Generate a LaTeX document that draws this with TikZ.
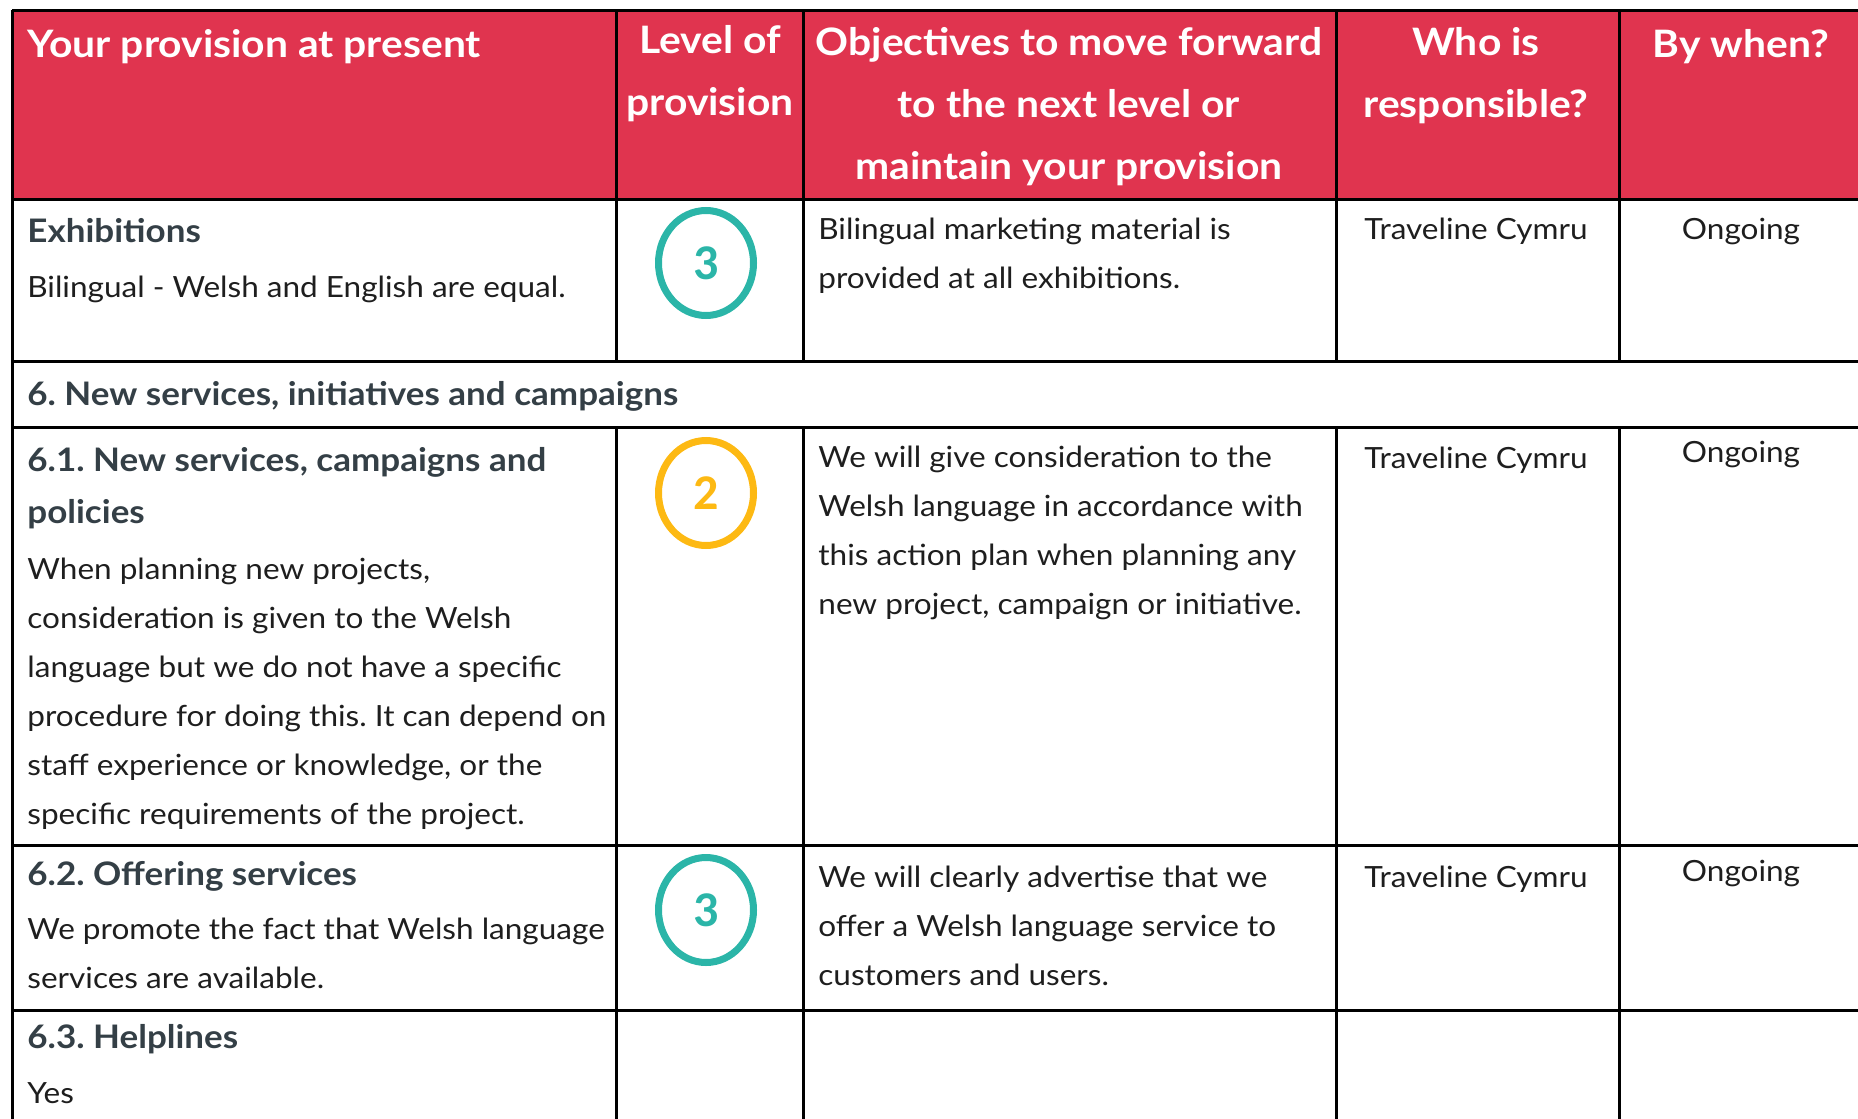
\documentclass[tikz,border=0pt]{standalone}
\usepackage{fontspec}
\setmainfont{Lato}[FakeStretch=1.08]
\newfontfamily\digitfont{Carlito}
\usepackage{tikz}
\frenchspacing
\definecolor{headred}{HTML}{E0344F}
\definecolor{levelteal}{HTML}{2BB5A8}
\definecolor{levelamber}{HTML}{FDB913}
\definecolor{titlegrey}{HTML}{343F46}
\definecolor{bodyblack}{HTML}{1E1E1E}
\tikzset{
	cell/.style={inner sep=0pt, execute at begin node={\rule{0pt}{0.8em}}},
	headtext/.style={cell, text=white, align=center, anchor=north, font=\bfseries\fontsize{18.9}{31}\selectfont},
	titletext/.style={cell, text=titlegrey, align=left, anchor=north west, font=\bfseries\fontsize{16.2}{26}\selectfont},
	bodytext/.style={cell, text=bodyblack, align=left, anchor=north west, font=\fontsize{14.6}{24.5}\selectfont},
	celltext/.style={cell, text=bodyblack, align=center, anchor=north, font=\fontsize{14.6}{24.5}\selectfont},
	level/.style={draw=#1, line width=3.5pt, ellipse, minimum width=47.5pt, minimum height=52.5pt, inner sep=0pt, text=#1, font=\digitfont\bfseries\fontsize{25}{25}\selectfont},
	rule/.style={line width=1.5pt, black}
}
\usetikzlibrary{shapes.geometric}

\begin{document}
\begin{tikzpicture}[x=0.5pt, y=-0.5pt]
		\useasboundingbox (0, 0) rectangle (1858, 1119);
		\clip (0, 0) rectangle (1858, 1119);
		%%%%% HEADER %%%%%
		\fill[headred] (12, 10) rectangle (1870, 199);
		
		\node[headtext, anchor=north west] (hprov) at (27, 27) {Your provision at present};
		\node[headtext] (hlevel) at (710, 25) {Level of\\provision};
		\node[headtext] (hobj) at (1069, 27) {Objectives to move forward\\to the next level or\\maintain your provision};
		\node[headtext] (hwho) at (1476, 27) {Who is\\responsible?};
		\node[headtext] (hwhen) at (1741, 27) {By when?};
		
		%%%%% EXHIBITIONS %%%%%
		\node[titletext] (exhtitle) at (27, 216) {Exhibitions};
		\node[bodytext] (exhbody) at (27, 274) {Bilingual - Welsh and English are equal.};
		\node[level=levelteal] (exhlevel) at (706, 263) {3};
		\node[bodytext] (exhobj) at (818, 218) {Bilingual marketing material is\\provided at all exhibitions.};
		\node[celltext] (exhwho) at (1476, 216) {Traveline Cymru};
		\node[celltext] (exhwhen) at (1741, 216) {Ongoing};
		
		%%%%% SECTION 6 %%%%%
		\node[titletext] (sixtitle) at (27, 379) {6. New services, initiatives and campaigns};
		
		\node[titletext] (newtitle) at (27, 447) {6.1. New services, campaigns and\\policies};
		\node[bodytext] (newbody) at (27, 558) {When planning new projects,\\consideration is given to the Welsh\\language but we do not have a specific\\procedure for doing this. It can depend on\\staff experience or knowledge, or the\\specific requirements of the project.};
		\node[level=levelamber] (newlevel) at (706, 493) {2};
		\node[bodytext] (newobj) at (818, 446) {We will give consideration to the\\Welsh language in accordance with\\this action plan when planning any\\new project, campaign or initiative.};
		\node[celltext] (newwho) at (1476, 445) {Traveline Cymru};
		\node[celltext] (newwhen) at (1741, 439) {Ongoing};
		
		\node[titletext] (offtitle) at (27, 859) {6.2. Offering services};
		\node[bodytext] (offbody) at (27, 918) {We promote the fact that Welsh language\\services are available.};
		\node[level=levelteal] (offlevel) at (706, 910) {3};
		\node[bodytext] (offobj) at (818, 866) {We will clearly advertise that we\\offer a Welsh language service to\\customers and users.};
		\node[celltext] (offwho) at (1476, 864) {Traveline Cymru};
		\node[celltext] (offwhen) at (1741, 858) {Ongoing};
		
		\node[titletext] (helptitle) at (27, 1022) {6.3. Helplines};
		\node[bodytext] (helpbody) at (27, 1080) {Yes};
		
		%%%%% RULES %%%%%
		\draw[rule] (12, 10) -- (1870, 10);
		\draw[rule] (12, 199) -- (1870, 199);
		\draw[rule] (12, 361) -- (1870, 361);
		\draw[rule] (12, 427) -- (1870, 427);
		\draw[rule] (12, 845) -- (1870, 845);
		\draw[rule] (12, 1010) -- (1870, 1010);
		\draw[rule] (12, 10) -- (12, 1130);
		\foreach \colx in {616, 803, 1336, 1619} {
			\draw[rule] (\colx, 10) -- (\colx, 361);
			\draw[rule] (\colx, 427) -- (\colx, 1130);
		}
		%%%%% END %%%%%
	\end{tikzpicture}
\end{document}
